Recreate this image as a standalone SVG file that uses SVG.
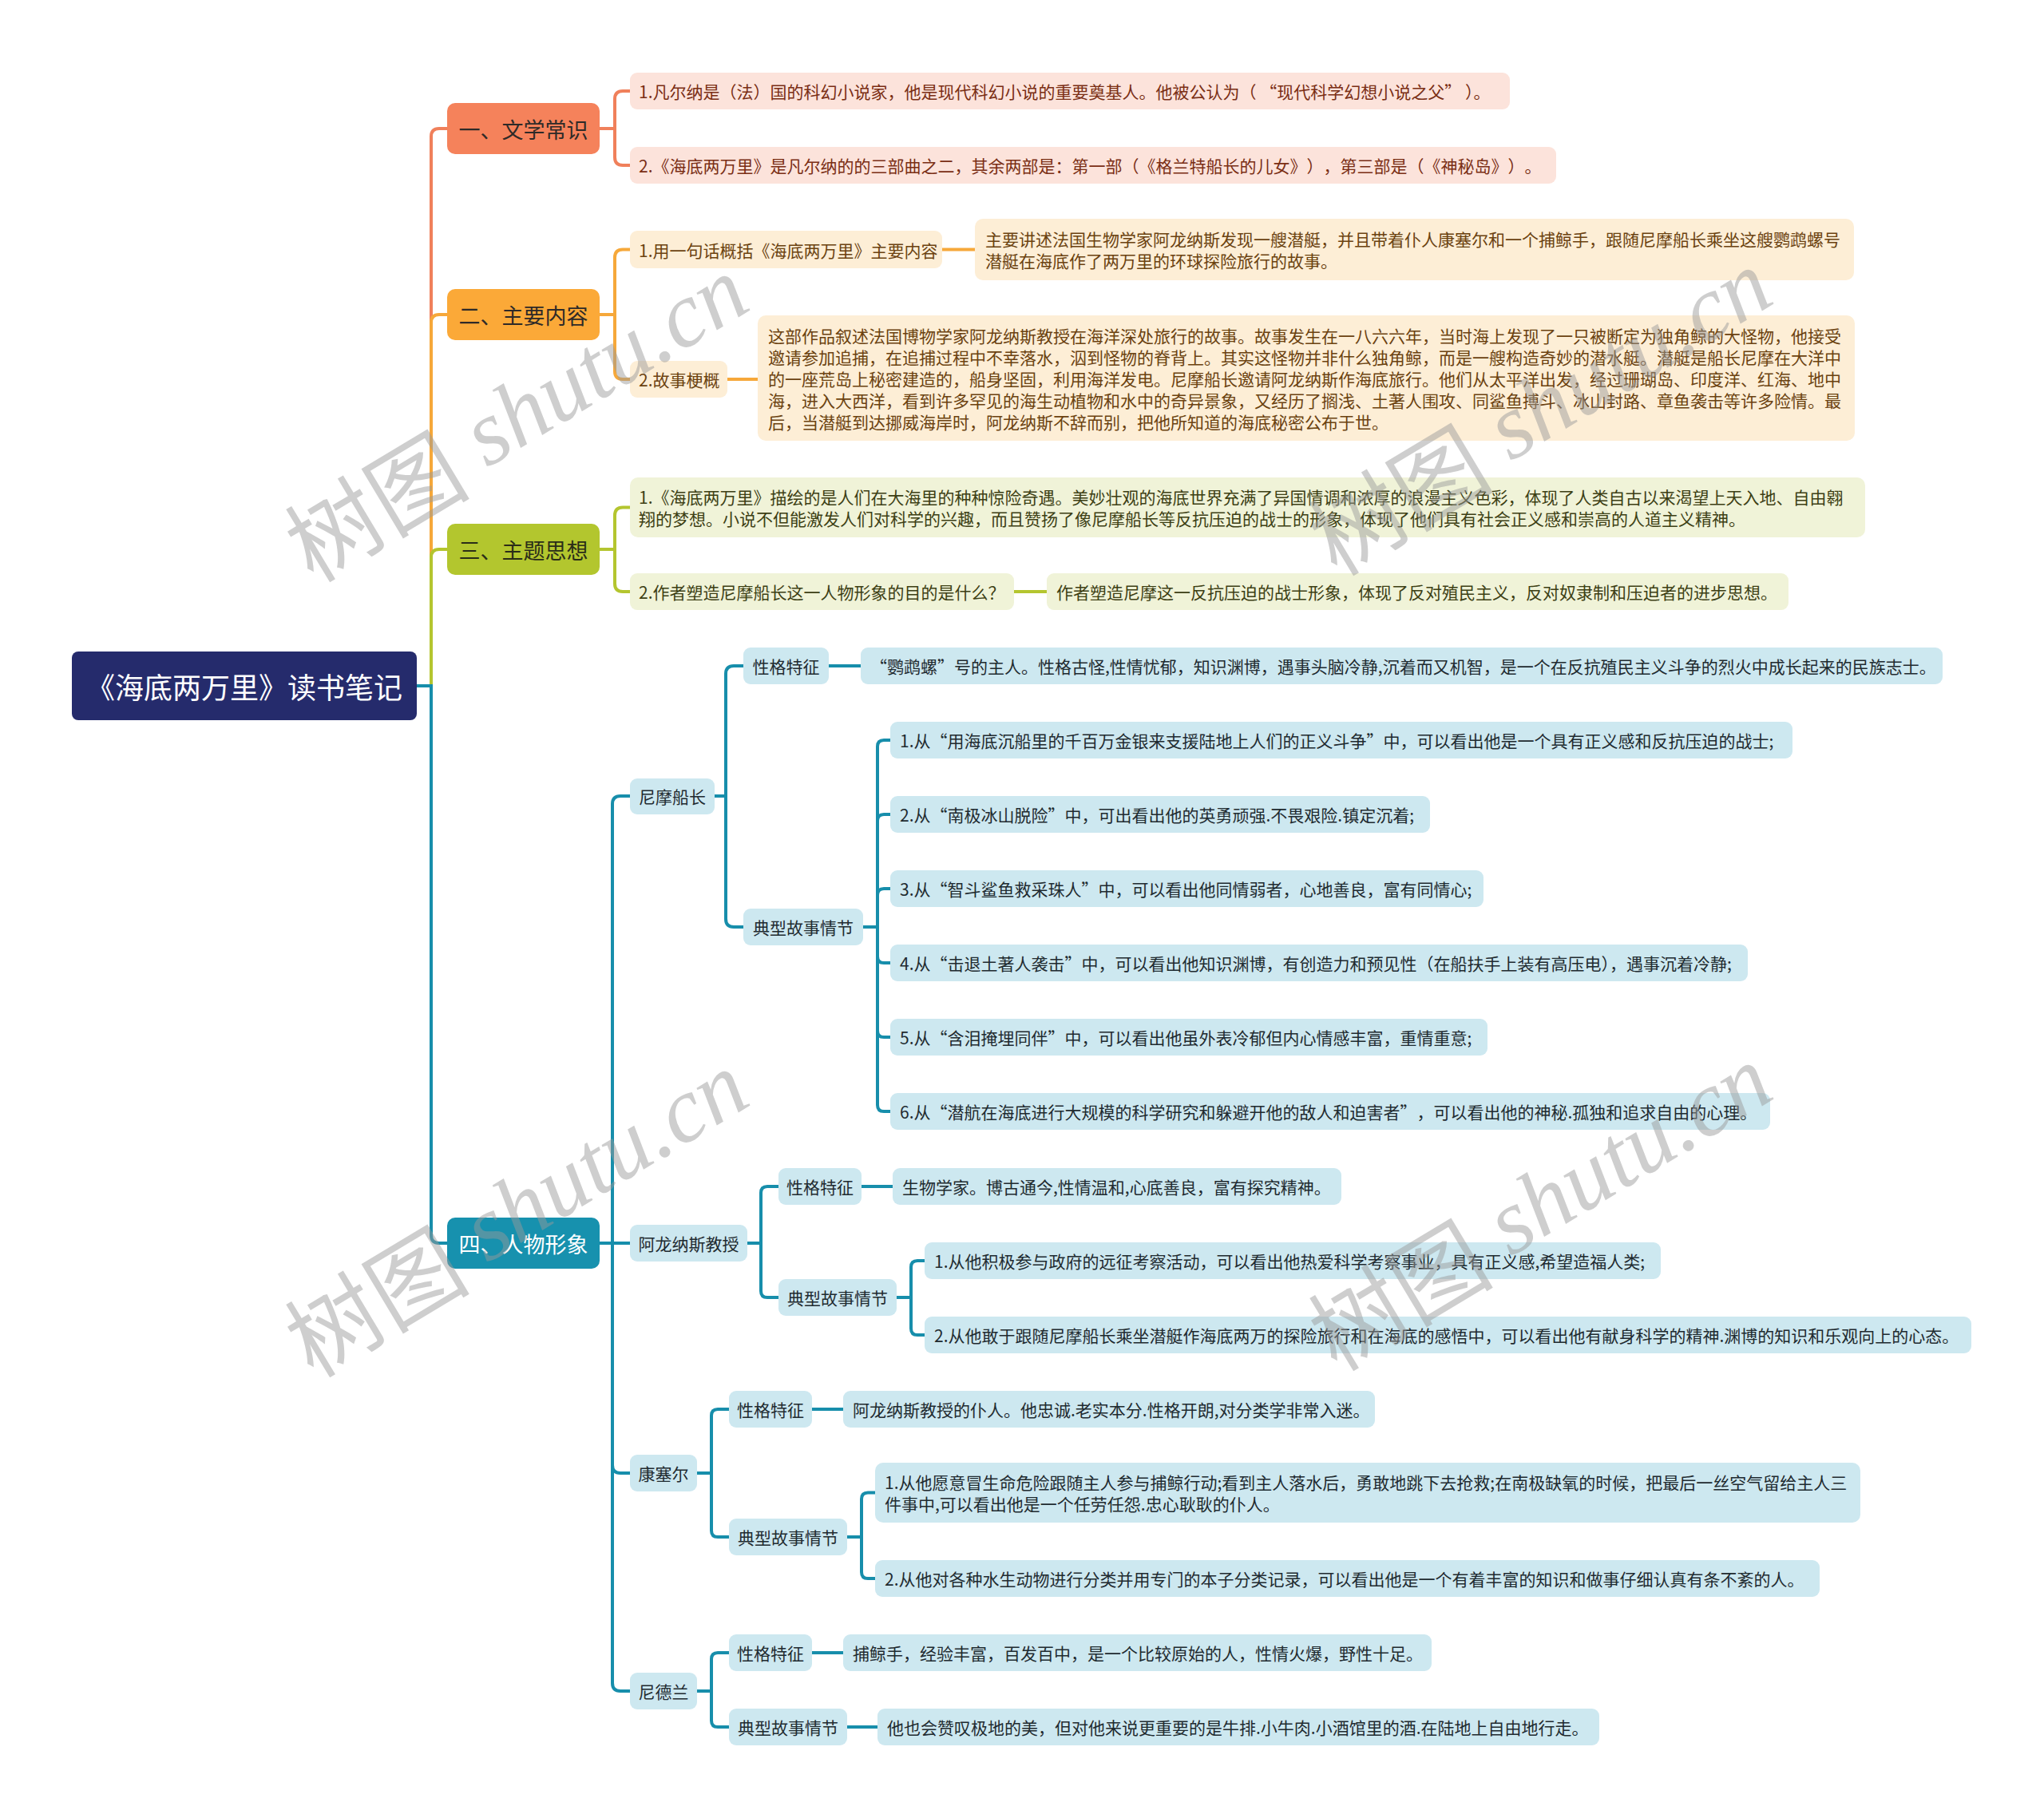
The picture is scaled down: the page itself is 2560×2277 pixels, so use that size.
<svg xmlns="http://www.w3.org/2000/svg" width="2560" height="2277" viewBox="0 0 2560 2277">
<style>
text{font-family:"Noto Sans CJK SC","Noto Sans",sans-serif;dominant-baseline:central}
.leaf{font-size:21px}
.cat{font-size:27px;text-anchor:middle}
.mid{font-size:21px;text-anchor:middle;fill:#1f2b30}
.nt{text-spacing-trim:space-all;font-feature-settings:"chws" 0,"halt" 0}
.c1{fill:none;stroke:#F0805B;stroke-width:4;stroke-linecap:round}
.c2{fill:none;stroke:#F6A83A;stroke-width:4;stroke-linecap:round}
.c3{fill:none;stroke:#B4C52F;stroke-width:4;stroke-linecap:round}
.c4{fill:none;stroke:#178EAB;stroke-width:4;stroke-linecap:round}
.s1{fill:#FCE3DB}.s2{fill:#FDEED6}.s3{fill:#F0F3D8}.s4{fill:#CDE8F0}
.t1{fill:#7A2E14}.t2{fill:#6B4210}.t3{fill:#3D3F14}.t4{fill:#1f2b30}
.wm{font-size:116px;fill:#9a9a9a;opacity:0.48;text-anchor:middle}
</style>

<g id="connectors">
  <path class="c1" d="M522 859 H540 V171 Q540 161 550 161 H560"/>
  <path class="c2" d="M522 859 H540 V404 Q540 394 550 394 H560"/>
  <path class="c3" d="M522 859 H540 V698 Q540 688 550 688 H560"/>
  <path class="c4" d="M522 859 H540 V1547 Q540 1557 550 1557 H560"/>

  <path class="c1" d="M751 161 H770 V124 Q770 114 780 114 H789"/>
  <path class="c1" d="M751 161 H770 V197 Q770 207 780 207 H789"/>

  <path class="c2" d="M751 394 H770 V322.5 Q770 312.5 780 312.5 H789"/>
  <path class="c2" d="M751 394 H770 V465 Q770 475 780 475 H789"/>
  <path class="c2" d="M1180 312.5 H1221"/>
  <path class="c2" d="M911 475 H949"/>

  <path class="c3" d="M751 688 H770 V645.5 Q770 635.5 780 635.5 H789"/>
  <path class="c3" d="M751 688 H770 V731 Q770 741 780 741 H789"/>
  <path class="c3" d="M1270 741 H1311"/>

  <path class="c4" d="M751 1557 H767 V1007 Q767 997 777 997 H789"/>
  <path class="c4" d="M751 1557 H789"/>
  <path class="c4" d="M751 1557 H767 V1835 Q767 1845 777 1845 H789"/>
  <path class="c4" d="M751 1557 H767 V2108 Q767 2118 777 2118 H789"/>

  <path class="c4" d="M895 997 H909 V844 Q909 834 919 834 H931"/>
  <path class="c4" d="M895 997 H909 V1151 Q909 1161 919 1161 H931"/>
  <path class="c4" d="M1038 834 H1078"/>
  <path class="c4" d="M1081 1161 H1099 V935 Q1099 927 1107 927 H1115"/>
  <path class="c4" d="M1081 1161 H1099 V1028 Q1099 1020 1107 1020 H1115"/>
  <path class="c4" d="M1081 1161 H1099 V1121 Q1099 1113 1107 1113 H1115"/>
  <path class="c4" d="M1081 1161 H1099 V1198 Q1099 1206 1107 1206 H1115"/>
  <path class="c4" d="M1081 1161 H1099 V1291 Q1099 1299 1107 1299 H1115"/>
  <path class="c4" d="M1081 1161 H1099 V1384 Q1099 1392 1107 1392 H1115"/>

  <path class="c4" d="M936 1557 H953 V1494 Q953 1486 961 1486 H975"/>
  <path class="c4" d="M936 1557 H953 V1617 Q953 1625 961 1625 H975"/>
  <path class="c4" d="M1079 1486 H1118"/>
  <path class="c4" d="M1123 1625 H1141 V1587 Q1141 1579 1149 1579 H1158"/>
  <path class="c4" d="M1123 1625 H1141 V1664 Q1141 1672 1149 1672 H1158"/>

  <path class="c4" d="M873 1845 H891 V1773 Q891 1765 899 1765 H913"/>
  <path class="c4" d="M873 1845 H891 V1917 Q891 1925 899 1925 H913"/>
  <path class="c4" d="M1017 1765 H1056"/>
  <path class="c4" d="M1061 1925 H1079 V1877.5 Q1079 1869.5 1087 1869.5 H1096"/>
  <path class="c4" d="M1061 1925 H1079 V1969 Q1079 1977 1087 1977 H1096"/>

  <path class="c4" d="M873 2118 H891 V2078 Q891 2070 899 2070 H913"/>
  <path class="c4" d="M873 2118 H891 V2155 Q891 2163 899 2163 H913"/>
  <path class="c4" d="M1017 2070 H1056"/>
  <path class="c4" d="M1061 2163 H1099"/>
</g>

<g id="root">
  <rect x="90" y="816" width="432" height="86" rx="8" fill="#252B6C"/>
  <text x="306" y="859" font-size="36" fill="#ffffff" text-anchor="middle">《海底两万里》读书笔记</text>
</g>

<g id="cat1">
  <rect x="560" y="129" width="191" height="64" rx="10" fill="#F5825B"/>
  <text class="cat" x="655.5" y="161" fill="#2e2a28">一、文学常识</text>
</g>
<g id="cat2">
  <rect x="560" y="362" width="191" height="64" rx="10" fill="#FBA938"/>
  <text class="cat" x="655.5" y="394" fill="#2e2a28">二、主要内容</text>
</g>
<g id="cat3">
  <rect x="560" y="656" width="191" height="64" rx="10" fill="#B3C62E"/>
  <text class="cat" x="655.5" y="688" fill="#2a2d18">三、主题思想</text>
</g>
<g id="cat4">
  <rect x="560" y="1525" width="191" height="64" rx="10" fill="#1791AE"/>
  <text class="cat" x="655.5" y="1557" fill="#ffffff">四、人物形象</text>
</g>

<g id="n1-1">
  <rect class="s1" x="789" y="91" width="1102" height="46" rx="9"/>
  <text class="leaf t1" x="800" y="114">1.凡尔纳是（法）国的科幻小说家，他是现代科幻小说的重要奠基人。他被公认为（ “现代科学幻想小说之父” ）。</text>
</g>
<g id="n1-2">
  <rect class="s1" x="789" y="184" width="1160" height="46" rx="9"/>
  <text class="leaf t1 nt" x="800" y="207">2.《海底两万里》是凡尔纳的的三部曲之二，其余两部是：第一部（《格兰特船长的儿女》），第三部是（《神秘岛》）。</text>
</g>

<g id="n2-1">
  <rect class="s2" x="789" y="289" width="391" height="47" rx="9"/>
  <text class="leaf t2" x="800" y="312.5">1.用一句话概括《海底两万里》主要内容</text>
</g>
<g id="n2-1a">
  <rect class="s2" x="1221" y="274" width="1101" height="77" rx="10"/>
  <text class="leaf t2" x="1234" y="299">主要讲述法国生物学家阿龙纳斯发现一艘潜艇，并且带着仆人康塞尔和一个捕鲸手，跟随尼摩船长乘坐这艘鹦鹉螺号</text>
  <text class="leaf t2" x="1234" y="326">潜艇在海底作了两万里的环球探险旅行的故事。</text>
</g>
<g id="n2-2">
  <rect class="s2" x="789" y="452" width="122" height="46" rx="9"/>
  <text class="leaf t2" x="800" y="475">2.故事梗概</text>
</g>
<g id="n2-2a">
  <rect class="s2" x="949" y="395" width="1374" height="157" rx="10"/>
  <text class="leaf t2" x="962" y="419.5">这部作品叙述法国博物学家阿龙纳斯教授在海洋深处旅行的故事。故事发生在一八六六年，当时海上发现了一只被断定为独角鲸的大怪物，他接受</text>
  <text class="leaf t2" x="962" y="446.5">邀请参加追捕，在追捕过程中不幸落水，泅到怪物的脊背上。其实这怪物并非什么独角鲸，而是一艘构造奇妙的潜水艇。潜艇是船长尼摩在大洋中</text>
  <text class="leaf t2" x="962" y="473.5">的一座荒岛上秘密建造的，船身坚固，利用海洋发电。尼摩船长邀请阿龙纳斯作海底旅行。他们从太平洋出发，经过珊瑚岛、印度洋、红海、地中</text>
  <text class="leaf t2" x="962" y="500.5">海，进入大西洋，看到许多罕见的海生动植物和水中的奇异景象，又经历了搁浅、土著人围攻、同鲨鱼搏斗、冰山封路、章鱼袭击等许多险情。最</text>
  <text class="leaf t2" x="962" y="527.5">后，当潜艇到达挪威海岸时，阿龙纳斯不辞而别，把他所知道的海底秘密公布于世。</text>
</g>

<g id="n3-1">
  <rect class="s3" x="789" y="598" width="1547" height="75" rx="10"/>
  <text class="leaf t3" x="800" y="622">1.《海底两万里》描绘的是人们在大海里的种种惊险奇遇。美妙壮观的海底世界充满了异国情调和浓厚的浪漫主义色彩，体现了人类自古以来渴望上天入地、自由翱</text>
  <text class="leaf t3" x="800" y="649">翔的梦想。小说不但能激发人们对科学的兴趣，而且赞扬了像尼摩船长等反抗压迫的战士的形象，体现了他们具有社会正义感和崇高的人道主义精神。</text>
</g>
<g id="n3-2">
  <rect class="s3" x="789" y="718" width="481" height="46" rx="9"/>
  <text class="leaf t3" x="800" y="741">2.作者塑造尼摩船长这一人物形象的目的是什么？</text>
</g>
<g id="n3-2a">
  <rect class="s3" x="1311" y="718" width="929" height="46" rx="9"/>
  <text class="leaf t3" x="1323" y="741">作者塑造尼摩这一反抗压迫的战士形象，体现了反对殖民主义，反对奴隶制和压迫者的进步思想。</text>
</g>

<g id="nemo">
  <rect class="s4" x="789" y="975" width="106" height="45" rx="9"/>
  <text class="mid" x="842" y="997">尼摩船长</text>
</g>
<g id="nemo-trait">
  <rect class="s4" x="931" y="811" width="107" height="46" rx="9"/>
  <text class="mid" x="984.5" y="834">性格特征</text>
</g>
<g id="nemo-trait-a">
  <rect class="s4" x="1078" y="811" width="1355" height="46" rx="9"/>
  <text class="leaf t4" x="1090" y="834">“鹦鹉螺”号的主人。性格古怪,性情忧郁，知识渊博，遇事头脑冷静,沉着而又机智，是一个在反抗殖民主义斗争的烈火中成长起来的民族志士。</text>
</g>
<g id="nemo-story">
  <rect class="s4" x="931" y="1138" width="150" height="46" rx="9"/>
  <text class="mid" x="1006" y="1161">典型故事情节</text>
</g>
<g id="nemo-s1">
  <rect class="s4" x="1115" y="904" width="1130" height="46" rx="9"/>
  <text class="leaf t4" x="1127" y="927">1.从“用海底沉船里的千百万金银来支援陆地上人们的正义斗争”中，可以看出他是一个具有正义感和反抗压迫的战士;</text>
</g>
<g id="nemo-s2">
  <rect class="s4" x="1115" y="997" width="676" height="46" rx="9"/>
  <text class="leaf t4" x="1127" y="1020">2.从“南极冰山脱险”中，可出看出他的英勇顽强.不畏艰险.镇定沉着;</text>
</g>
<g id="nemo-s3">
  <rect class="s4" x="1115" y="1090" width="743" height="46" rx="9"/>
  <text class="leaf t4" x="1127" y="1113">3.从“智斗鲨鱼救采珠人”中，可以看出他同情弱者，心地善良，富有同情心;</text>
</g>
<g id="nemo-s4">
  <rect class="s4" x="1115" y="1183" width="1074" height="46" rx="9"/>
  <text class="leaf t4" x="1127" y="1206">4.从“击退土著人袭击”中，可以看出他知识渊博，有创造力和预见性（在船扶手上装有高压电），遇事沉着冷静;</text>
</g>
<g id="nemo-s5">
  <rect class="s4" x="1115" y="1276" width="748" height="46" rx="9"/>
  <text class="leaf t4" x="1127" y="1299">5.从“含泪掩埋同伴”中，可以看出他虽外表冷郁但内心情感丰富，重情重意;</text>
</g>
<g id="nemo-s6">
  <rect class="s4" x="1115" y="1369" width="1102" height="46" rx="9"/>
  <text class="leaf t4 nt" x="1127" y="1392">6.从“潜航在海底进行大规模的科学研究和躲避开他的敌人和迫害者”，可以看出他的神秘.孤独和追求自由的心理。</text>
</g>

<g id="aronnax">
  <rect class="s4" x="789" y="1534" width="147" height="46" rx="9"/>
  <text class="mid" x="862.5" y="1557">阿龙纳斯教授</text>
</g>
<g id="aronnax-trait">
  <rect class="s4" x="975" y="1463" width="104" height="46" rx="9"/>
  <text class="mid" x="1027" y="1486">性格特征</text>
</g>
<g id="aronnax-trait-a">
  <rect class="s4" x="1118" y="1463" width="562" height="46" rx="9"/>
  <text class="leaf t4" x="1130" y="1486">生物学家。博古通今,性情温和,心底善良，富有探究精神。</text>
</g>
<g id="aronnax-story">
  <rect class="s4" x="975" y="1602" width="148" height="46" rx="9"/>
  <text class="mid" x="1049" y="1625">典型故事情节</text>
</g>
<g id="aronnax-s1">
  <rect class="s4" x="1158" y="1556" width="922" height="46" rx="9"/>
  <text class="leaf t4" x="1170" y="1579">1.从他积极参与政府的远征考察活动，可以看出他热爱科学考察事业，具有正义感,希望造福人类;</text>
</g>
<g id="aronnax-s2">
  <rect class="s4" x="1158" y="1649" width="1311" height="46" rx="9"/>
  <text class="leaf t4" x="1170" y="1672">2.从他敢于跟随尼摩船长乘坐潜艇作海底两万的探险旅行和在海底的感悟中，可以看出他有献身科学的精神.渊博的知识和乐观向上的心态。</text>
</g>

<g id="conseil">
  <rect class="s4" x="789" y="1822" width="84" height="46" rx="9"/>
  <text class="mid" x="831" y="1845">康塞尔</text>
</g>
<g id="conseil-trait">
  <rect class="s4" x="913" y="1742" width="104" height="46" rx="9"/>
  <text class="mid" x="965" y="1765">性格特征</text>
</g>
<g id="conseil-trait-a">
  <rect class="s4" x="1056" y="1742" width="666" height="46" rx="9"/>
  <text class="leaf t4" x="1068" y="1765">阿龙纳斯教授的仆人。他忠诚.老实本分.性格开朗,对分类学非常入迷。</text>
</g>
<g id="conseil-story">
  <rect class="s4" x="913" y="1902" width="148" height="46" rx="9"/>
  <text class="mid" x="987" y="1925">典型故事情节</text>
</g>
<g id="conseil-s1">
  <rect class="s4" x="1096" y="1832" width="1234" height="75" rx="10"/>
  <text class="leaf t4" x="1108" y="1856">1.从他愿意冒生命危险跟随主人参与捕鲸行动;看到主人落水后，勇敢地跳下去抢救;在南极缺氧的时候，把最后一丝空气留给主人三</text>
  <text class="leaf t4" x="1108" y="1883">件事中,可以看出他是一个任劳任怨.忠心耿耿的仆人。</text>
</g>
<g id="conseil-s2">
  <rect class="s4" x="1096" y="1954" width="1183" height="46" rx="9"/>
  <text class="leaf t4" x="1108" y="1977">2.从他对各种水生动物进行分类并用专门的本子分类记录，可以看出他是一个有着丰富的知识和做事仔细认真有条不紊的人。</text>
</g>

<g id="ned">
  <rect class="s4" x="789" y="2095" width="84" height="46" rx="9"/>
  <text class="mid" x="831" y="2118">尼德兰</text>
</g>
<g id="ned-trait">
  <rect class="s4" x="913" y="2047" width="104" height="46" rx="9"/>
  <text class="mid" x="965" y="2070">性格特征</text>
</g>
<g id="ned-trait-a">
  <rect class="s4" x="1056" y="2047" width="737" height="46" rx="9"/>
  <text class="leaf t4" x="1068" y="2070">捕鲸手，经验丰富，百发百中，是一个比较原始的人，性情火爆，野性十足。</text>
</g>
<g id="ned-story">
  <rect class="s4" x="913" y="2140" width="148" height="46" rx="9"/>
  <text class="mid" x="987" y="2163">典型故事情节</text>
</g>
<g id="ned-story-a">
  <rect class="s4" x="1099" y="2140" width="904" height="46" rx="9"/>
  <text class="leaf t4" x="1111" y="2163">他也会赞叹极地的美，但对他来说更重要的是牛排.小牛肉.小酒馆里的酒.在陆地上自由地行走。</text>
</g>

<g id="watermarks">
  <text class="wm" transform="translate(645 520) rotate(-31)">树图<tspan font-family="Liberation Serif,serif" font-style="italic"> shutu.cn</tspan></text>
  <text class="wm" transform="translate(1927 512) rotate(-31)">树图<tspan font-family="Liberation Serif,serif" font-style="italic"> shutu.cn</tspan></text>
  <text class="wm" transform="translate(645 1516) rotate(-31)">树图<tspan font-family="Liberation Serif,serif" font-style="italic"> shutu.cn</tspan></text>
  <text class="wm" transform="translate(1927 1508) rotate(-31)">树图<tspan font-family="Liberation Serif,serif" font-style="italic"> shutu.cn</tspan></text>
</g>
</svg>
